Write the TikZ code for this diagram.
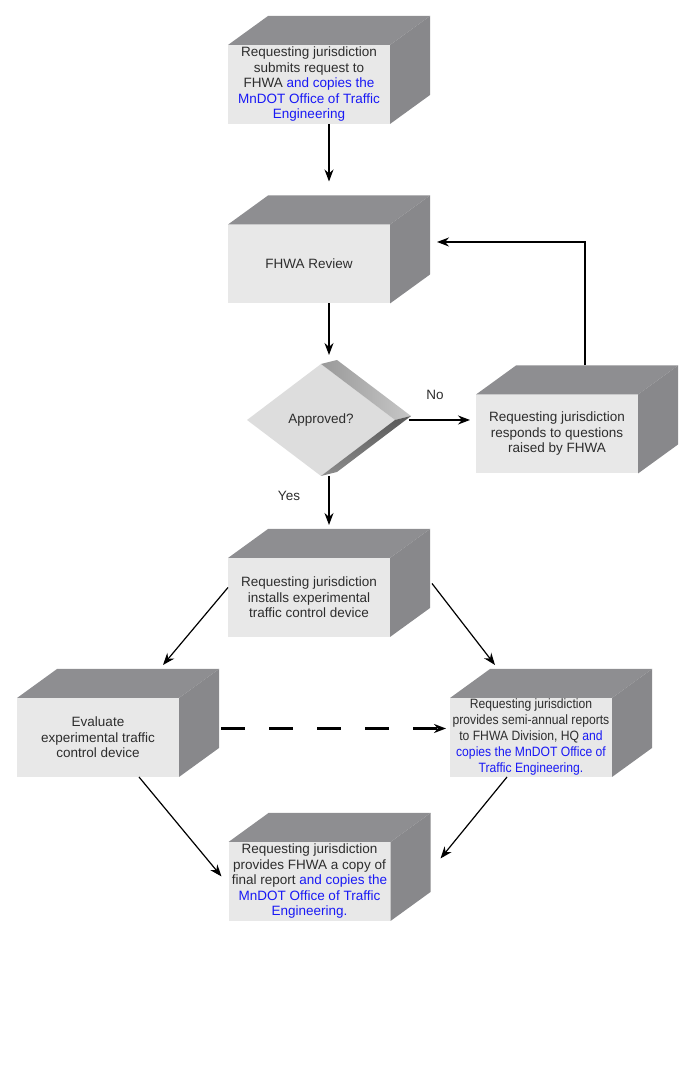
\documentclass[tikz,border=0pt]{standalone}
\usepackage{fontspec}
\setmainfont{Liberation Sans}
\newfontfamily\narrowfont[FakeStretch=0.9]{Liberation Sans}
\usetikzlibrary{positioning,shapes.geometric,arrows.meta}
\definecolor{facegray}{RGB}{232,232,232}
\definecolor{topgray}{RGB}{142,142,145}
\definecolor{sidegray}{RGB}{136,136,139}
\definecolor{diamondgray}{RGB}{221,221,221}
\definecolor{textgray}{RGB}{45,45,45}
\definecolor{notesblue}{RGB}{25,25,245}

% Facce superiore e destra del cubo
\newcommand{\cubefaces}[1]{%
  \fill[topgray] (#1.north west) -- ++(40pt,29pt) -- ([shift={(40pt,29pt)}]#1.north east) -- (#1.north east) -- cycle;
  \fill[sidegray] (#1.north east) -- ++(40pt,29pt) -- ([shift={(40pt,29pt)}]#1.south east) -- (#1.south east) -- cycle;
}
\newcommand{\mn}[1]{\textcolor{notesblue}{#1}}

\begin{document}
\begin{tikzpicture}[x=1pt,y=1pt,>={Stealth[length=12pt,width=9pt]}]
    % Stili dei blocchi
    \tikzset{
        cube_front/.style={
            fill=facegray, % Faccia frontale
            text=textgray,
            minimum width=162pt, % Larghezza della faccia
            minimum height=79pt, % Altezza della faccia
            align=center, % Testo centrato
            font=\fontsize{13.5}{15.5}\selectfont,
            inner sep=0pt,
            outer sep=0pt
        },
        decision/.style={
            shape=diamond,
            fill=diamondgray,
            text=textgray,
            minimum width=148pt,
            minimum height=112pt,
            font=\fontsize{13.5}{15.5}\selectfont,
            inner sep=0pt,
            outer sep=0pt
        },
        flow/.style={->, line width=1.2pt, color=black},
        label_text/.style={text=textgray, font=\fontsize{13.5}{15.5}\selectfont}
    }
    \useasboundingbox (0,0) rectangle (693,1083);

    % Richiesta
    \node[cube_front] (request) at (309,998.5) {Requesting jurisdiction\\submits request to\\FHWA \mn{and copies the}\\\mn{MnDOT Office of Traffic}\\\mn{Engineering}};
    \cubefaces{request}

    % Revisione
    \node[cube_front] (review) at (309,819) {FHWA Review};
    \cubefaces{review}

    % Decisione
    \node[decision] (approve) at (321,663) {Approved?};
    \shade[left color=black!40, right color=black!22] (approve.north) -- ++(16pt,4pt) -- ([shift={(16pt,4pt)}]approve.east) -- (approve.east) -- cycle;
    \shade[top color=black!65, bottom color=black!45] (approve.east) -- ++(16pt,4pt) -- ([shift={(16pt,4pt)}]approve.south) -- (approve.south) -- cycle;

    % Risposta
    \node[cube_front] (respond) at (557,649) {Requesting jurisdiction\\responds to questions\\raised by FHWA};
    \cubefaces{respond}

    % Installazione
    \node[cube_front] (install) at (309,485.5) {Requesting jurisdiction\\installs experimental\\traffic control device};
    \cubefaces{install}

    % Valutazione e rapporti
    \node[cube_front] (evaluate) at (98,345.5) {Evaluate\\experimental traffic\\control device};
    \cubefaces{evaluate}
    \node[cube_front, font=\narrowfont\fontsize{13.5}{16}\selectfont] (reports) at (531,345.5) {Requesting jurisdiction\\provides semi-annual reports\\to FHWA Division, HQ \mn{and}\\\mn{copies the MnDOT Office of}\\\mn{Traffic Engineering.}};
    \cubefaces{reports}

    % Rapporto finale
    \node[cube_front] (final) at (309.5,201.5) {Requesting jurisdiction\\provides FHWA a copy of\\final report \mn{and copies the}\\\mn{MnDOT Office of Traffic}\\\mn{Engineering.}};
    \cubefaces{final}

    % Frecce
    \draw[flow] ([xshift=20pt]request.south) -- ([xshift=20pt,yshift=43pt]review.north);
    \draw[flow] ([xshift=20pt]review.south) -- ([xshift=8pt,yshift=9pt]approve.north);
    \draw[flow] ([xshift=8pt]approve.south) -- ([xshift=20pt,yshift=33pt]install.north);
    \coordinate (no_end) at (approve.east -| respond.west);
    \draw[flow] ([xshift=14pt]approve.east) -- ([xshift=-6pt]no_end);
    \draw[flow] ([xshift=28pt,yshift=29pt]respond.north) |- ([xshift=47pt,yshift=22pt]review.east);
    \draw[flow] ([yshift=10pt]install.west) -- ([xshift=65pt,yshift=33pt]evaluate.north);
    \draw[flow] ([xshift=42pt,yshift=14pt]install.east) -- ([xshift=-36pt,yshift=33pt]reports.north);
    \draw[flow, line width=2.5pt, dash pattern=on 24pt off 24pt] ([xshift=42pt,yshift=9pt]evaluate.east) -- ([xshift=-4pt,yshift=9pt]reports.west);
    \draw[flow] ([xshift=41pt]evaluate.south) -- ([xshift=-7pt,yshift=5pt]final.west);
    \draw[flow] ([xshift=-24pt]reports.south) -- ([xshift=50pt,yshift=23pt]final.east);

    % Etichette
    \node[label_text] (no_label) at (435,688) {No};
    \node[label_text] (yes_label) at (289,587) {Yes};

\end{tikzpicture}
\end{document}
